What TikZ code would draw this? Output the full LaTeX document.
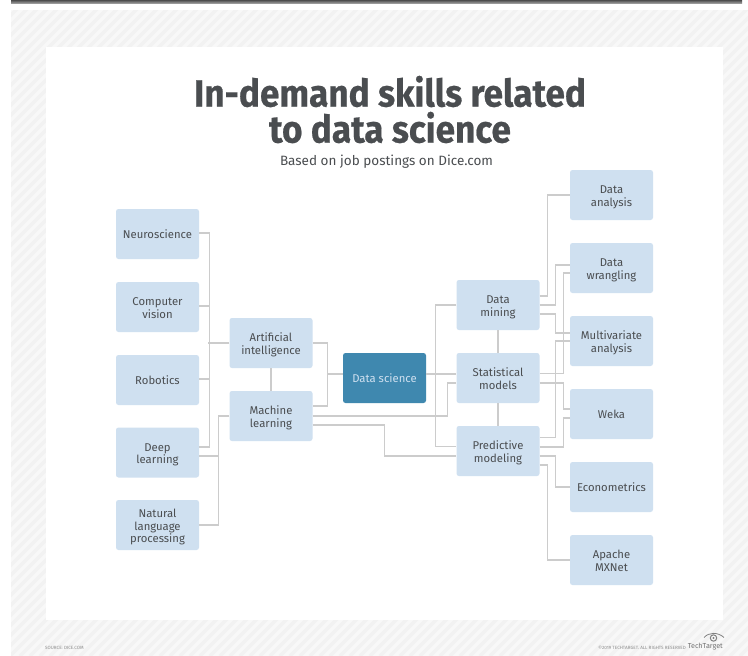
\documentclass[tikz,border=0pt]{standalone}
\usepackage{fontspec}
\setmainfont{Fira Sans}
\newfontfamily\titlefont[FakeBold=0.6]{Fira Sans Bold}
\newcommand\Up{\rule{0pt}{13pt}}
\newcommand\Dn{\rule[-3pt]{0pt}{3pt}}
\definecolor{boxfill}{HTML}{CFE0F0}
\definecolor{dsfill}{HTML}{3F88AF}
\definecolor{inkgray}{HTML}{4A4D50}
\definecolor{linegray}{HTML}{CCCCCC}
\definecolor{stripeA}{HTML}{F8F8F8}
\definecolor{stripeB}{HTML}{F2F2F2}
\tikzset{
  skill/.style={fill=boxfill,rounded corners=2.5pt,minimum width=83pt,minimum height=50pt,inner sep=0pt,
    align=center,text=inkgray,font=\fontsize{11.3}{12.8}\selectfont},
  core/.style={skill,fill=dsfill,text=boxfill},
  conn/.style={draw=linegray,line width=1.1pt},
  foot/.style={text=black!45,inner sep=0pt,font=\fontsize{4.6}{5}\selectfont}
}
\begin{document}
\begin{tikzpicture}[x=1pt,y=-1pt]
\useasboundingbox (0,0) rectangle (748,656);
\fill[white] (0,0) rectangle (748,656);
\shade[top color=black!70,bottom color=black!35] (11,0) rectangle (742,3.5);
\begin{scope}
  \clip (11,10) rectangle (748,656);
  \fill[stripeA] (11,10) rectangle (748,656);
  \foreach \i in {-660,-650,...,750} {
    \draw[stripeB,line width=3.5pt] (\i,656) -- ++(660,-660);
  }
\end{scope}
\fill[white] (46,47) rectangle (723,620);

\node[text=inkgray,inner sep=0pt,xscale=.925,font=\fontsize{38}{36}\selectfont\titlefont,align=center] (title) at (390,109.5) {In-demand skills related\\to data science};
\node[text=inkgray,inner sep=0pt,font=\fontsize{13.5}{15}\selectfont] (sub) at (386.5,161.5) {Based on job postings on Dice.com};

\node[skill] (ne) at (157.5,234) {Neuroscience};
\node[skill] (cv) at (157.5,307) {\Up Computer\\vision\Dn};
\node[skill] (ro) at (157.5,380) {Robotics};
\node[skill] (dl) at (157.5,452.5) {\Up Deep\\learning\Dn};
\node[skill] (nl) at (157.5,525) {\Up Natural\\language\\processing\Dn};
\node[skill] (ai) at (271,343) {\Up Artificial\\intelligence\Dn};
\node[skill] (ml) at (271,416) {\Up Machine\\learning\Dn};
\node[core] (ds) at (384.5,378) {Data science};
\node[skill] (dm) at (498,305) {\Up Data\\mining\Dn};
\node[skill] (sm) at (498,378) {\Up Statistical\\models\Dn};
\node[skill] (pm) at (498,451) {\Up Predictive\\modeling\Dn};
\node[skill] (da) at (611.5,195) {\Up Data\\analysis\Dn};
\node[skill] (dw) at (611.5,268) {\Up Data\\wrangling\Dn};
\node[skill] (mv) at (611.5,341) {\Up Multivariate\\analysis\Dn};
\node[skill] (we) at (611.5,414) {Weka};
\node[skill] (ec) at (611.5,487) {Econometrics};
\node[skill] (mx) at (611.5,560) {\Up Apache\\MXNet\Dn};

% left side
\draw[conn] ([yshift=1]ne.east) -- ++(10,0) |- ([yshift=5.5]dl.east);
\draw[conn] ([yshift=1]cv.east) -- ++(10,0);
\draw[conn] ([yshift=1]ro.east) -- ++(10,0);
\draw[conn] (ai.west) -- ++(-21,0);
\draw[conn] (ml.west) -- ++(-11,0) |- (nl.east);
\draw[conn] ([yshift=-3.5]dl.east) -- ++(20,0);
% central
\draw[conn] (ai.south) -- (ml.north);
\draw[conn] (ai.east) -- ++(15,0) |- ([yshift=10]ml.east);
\draw[conn] ([yshift=4]ds.west) -- ++(-16,0);
\draw[conn] ([yshift=4]ds.east) -- ([yshift=4]sm.west);
\draw[conn] (dm.west) -- ++(-20.5,0) |- ([yshift=4.5]pm.west);
\draw[conn] (ml.east) -- ++(134.5,0) |- ([yshift=-5]sm.west);
\draw[conn] ([yshift=-9]ml.east) -- ++(72,0) |- ([yshift=-5]pm.west);
\draw[conn] (dm.south) -- (sm.north);
\draw[conn] (sm.south) -- (pm.north);
% right side
\draw[conn] ([yshift=9]dm.east) -- ++(8,0) |- (da.west);
\draw[conn] (dm.east) -- ++(16,0) |- ([yshift=3]dw.west);
\draw[conn] ([yshift=-9]dm.east) -- ++(16,0) |- ([yshift=8]mv.west);
\draw[conn] ([yshift=4.5]sm.east) -- ++(23.5,0) |- ([yshift=-5]dw.west);
\draw[conn] ([yshift=-5]sm.east) -- ++(23.5,0) |- ([yshift=5]we.west);
\draw[conn] ([yshift=13.5]pm.east) -- ++(16,0) |- (mv.west);
\draw[conn] ([yshift=4]pm.east) -- ++(23.5,0) |- ([yshift=-4]we.west);
\draw[conn] ([yshift=-5]pm.east) -- ++(16,0) |- (ec.west);
\draw[conn] ([yshift=-14]pm.east) -- ++(8,0) |- (mx.west);

% footer
\node[foot,anchor=west] (src) at (45,647.5) {SOURCE: DICE.COM};
\node[foot,anchor=east] (copy) at (686,647.5) {©2019 TECHTARGET. ALL RIGHTS RESERVED};
\node[text=black!55,inner sep=0pt,anchor=east,font=\fontsize{7.2}{9}\selectfont] (tt) at (723,647) {TechTarget};
\draw[black!50,line width=.8pt] (704,637.5) .. controls (709,632) and (718,632) .. (724,637.5);
\draw[black!50,line width=1pt] (713.5,638) circle (3.2pt);
\fill[black!50] (713.5,638) circle (1.2pt);
\end{tikzpicture}
\end{document}
